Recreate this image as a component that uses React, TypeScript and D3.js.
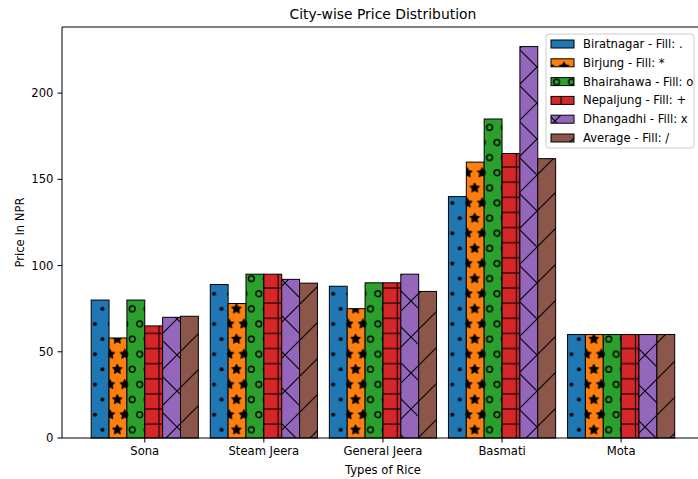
import React from 'react';
import * as d3 from 'd3';

const categories = ['Sona', 'Steam Jeera', 'General Jeera', 'Basmati', 'Mota'];
const seriesNames = ['Biratnagar', 'Birjung', 'Bhairahawa', 'Nepaljung', 'Dhangadhi', 'Average'];
const hatchLabels = ['.', '*', 'o', '+', 'x', '/'];
const biratnagar = [80, 89, 88, 140, 60];
const birjung = [58, 78, 75, 160, 60];
const bhairahawa = [80, 95, 90, 185, 60];
const nepaljung = [65, 95, 90, 165, 60];
const dhangadhi = [70, 92, 95, 227, 60];
const average = [70.6, 89.8, 85, 162, 60];
const yTicks = [0, 50, 100, 150, 200];

const seriesValues = [biratnagar, birjung, bhairahawa, nepaljung, dhangadhi, average];
const colors = ['#1f77b4', '#ff7f0e', '#2ca02c', '#d62728', '#9467bd', '#8c564b'];
const patternIds = ['hDot', 'hStar', 'hRing', 'hPlus', 'hX', 'hSlash'];

const W = 698, H = 479;
const L = 62, R = 703.9, T = 27, B = 438;
const barW = 0.15;
const FONT = 'DejaVu Sans, sans-serif';
const FS = 11.6;

// hatch lattice
const Px = 14.89, Py = 15.12;
const xA = 95, yA = 414.7;
const xV = 159, yH = 409;
const D = 36;

function starPath(r: number) {
  const pts: string[] = [];
  for (let k = 0; k < 10; k++) {
    const a = -Math.PI / 2 + (k * Math.PI) / 5;
    const rr = k % 2 === 0 ? r : r * 0.5;
    pts.push(`${(rr * Math.cos(a)).toFixed(2)},${(rr * Math.sin(a)).toFixed(2)}`);
  }
  return 'M' + pts.join('L') + 'Z';
}

function ShapePattern({ id, kind }: { id: string; kind: string }) {
  const items: JSX.Element[] = [];
  let n = 0;
  for (const dx of [-Px, 0, Px]) {
    for (const dy of [-2 * Py, 0, 2 * Py]) {
      const pts = [
        [Px / 4 + dx, Py / 2 + dy],
        [(3 * Px) / 4 + dx, (3 * Py) / 2 + dy],
      ];
      for (const [cx, cy] of pts) {
        n++;
        if (kind === 'dot') items.push(<circle key={n} cx={cx} cy={cy} r={2} fill="#000" />);
        else if (kind === 'ring')
          items.push(<circle key={n} cx={cx} cy={cy} r={2.9} fill="none" stroke="#000" strokeWidth={1.4} />);
        else
          items.push(
            <path key={n} d={starPath(5.2)} transform={`translate(${cx},${cy})`} fill="#000" stroke="#000" strokeWidth={0.8} />
          );
      }
    }
  }
  return (
    <pattern id={id} patternUnits="userSpaceOnUse" x={xA - Px / 4} y={yA - Py / 2} width={Px} height={2 * Py}>
      {items}
    </pattern>
  );
}

export default function App() {
  const x = d3.scaleLinear().domain([-0.695, 4.695]).range([L, R]);
  const y = d3.scaleLinear().domain([0, 238.35]).range([B, T]);

  const bars: JSX.Element[] = [];
  seriesValues.forEach((vals, si) => {
    vals.forEach((v, gi) => {
      const x0 = x(gi + (si - 3) * barW);
      const x1 = x(gi + (si - 2) * barW);
      bars.push(
        <g key={`${si}-${gi}`}>
          <rect x={x0} y={y(v)} width={x1 - x0} height={y(0) - y(v)} fill={colors[si]} />
          <rect x={x0} y={y(v)} width={x1 - x0} height={y(0) - y(v)} fill={`url(#${patternIds[si]})`} />
          <rect x={x0} y={y(v)} width={x1 - x0} height={y(0) - y(v)} fill="none" stroke="#000" strokeWidth={1} />
        </g>
      );
    });
  });

  const legX = 546, legY = 34, legW = 148, legH = 114;
  const rowH = 18.8;

  return (
    <svg width={W} height={H} style={{ position: 'absolute', left: 0, top: 0, background: '#fff' }} fontFamily={FONT}>
      <defs>
        <ShapePattern id="hDot" kind="dot" />
        <ShapePattern id="hStar" kind="star" />
        <ShapePattern id="hRing" kind="ring" />
        <pattern id="hPlus" patternUnits="userSpaceOnUse" x={xV - Px / 2} y={yH - Py / 2} width={Px} height={Py}>
          <line x1={0} x2={Px} y1={Py / 2} y2={Py / 2} stroke="#000" strokeWidth={1.1} />
          <line x1={Px / 2} x2={Px / 2} y1={0} y2={Py} stroke="#000" strokeWidth={1.1} />
        </pattern>
        <pattern id="hSlash" patternUnits="userSpaceOnUse" x={xV} y={yH} width={D} height={D}>
          {[-D, 0, D].map((o) => (
            <line key={o} x1={-1 + o} y1={D + 1} x2={D + 1 + o} y2={-1} stroke="#000" strokeWidth={1.1} />
          ))}
        </pattern>
        <pattern id="hX" patternUnits="userSpaceOnUse" x={xV} y={yH} width={D} height={D}>
          {[-D, 0, D].map((o) => (
            <g key={o}>
              <line x1={-1 + o} y1={D + 1} x2={D + 1 + o} y2={-1} stroke="#000" strokeWidth={1.1} />
              <line x1={-1 + o} y1={-1} x2={D + 1 + o} y2={D + 1} stroke="#000" strokeWidth={1.1} />
            </g>
          ))}
        </pattern>
      </defs>
      <rect width={W} height={H} fill="#fff" />
      {bars}
      {/* spines */}
      <line x1={L} x2={L} y1={T} y2={B} stroke="#000" strokeWidth={1} />
      <line x1={L} x2={R} y1={B} y2={B} stroke="#000" strokeWidth={1} />
      <line x1={L} x2={R} y1={T} y2={T} stroke="#000" strokeWidth={1} />
      <line x1={R} x2={R} y1={T} y2={B} stroke="#000" strokeWidth={1} />
      {/* y ticks */}
      {yTicks.map((t) => (
        <g key={t}>
          <line x1={L - 4.5} x2={L} y1={y(t)} y2={y(t)} stroke="#000" strokeWidth={1} />
          <text x={L - 8.5} y={y(t)} dy="0.35em" textAnchor="end" fontSize={FS} fill="#000">
            {t}
          </text>
        </g>
      ))}
      {/* x ticks */}
      {categories.map((c, i) => (
        <g key={c}>
          <line x1={x(i)} x2={x(i)} y1={B} y2={B + 4.5} stroke="#000" strokeWidth={1} />
          <text x={x(i)} y={B + 17} textAnchor="middle" fontSize={FS} fill="#000">
            {c}
          </text>
        </g>
      ))}
      <text x={(L + R) / 2} y={474} textAnchor="middle" fontSize={FS} fill="#000">
        Types of Rice
      </text>
      <text transform={`translate(24,${(T + B) / 2}) rotate(-90)`} textAnchor="middle" fontSize={FS} fill="#000">
        Price In NPR
      </text>
      <text x={(L + R) / 2} y={19} textAnchor="middle" fontSize={13.9} fill="#000">
        City-wise Price Distribution
      </text>
      {/* legend */}
      <rect x={legX} y={legY} width={legW} height={legH} rx={3} fill="#fff" fillOpacity={0.8} stroke="#ccc" strokeWidth={1} />
      {seriesNames.map((s, i) => {
        const cy = 44 + i * rowH;
        return (
          <g key={s}>
            <rect x={551} y={cy - 4} width={23} height={8} fill={colors[i]} />
            <rect x={551} y={cy - 4} width={23} height={8} fill={`url(#${patternIds[i]})`} />
            <rect x={551} y={cy - 4} width={23} height={8} fill="none" stroke="#000" strokeWidth={1} />
            <text x={583} y={cy} dy="0.35em" fontSize={FS} fill="#000">
              {`${s} - Fill: ${hatchLabels[i]}`}
            </text>
          </g>
        );
      })}
    </svg>
  );
}
